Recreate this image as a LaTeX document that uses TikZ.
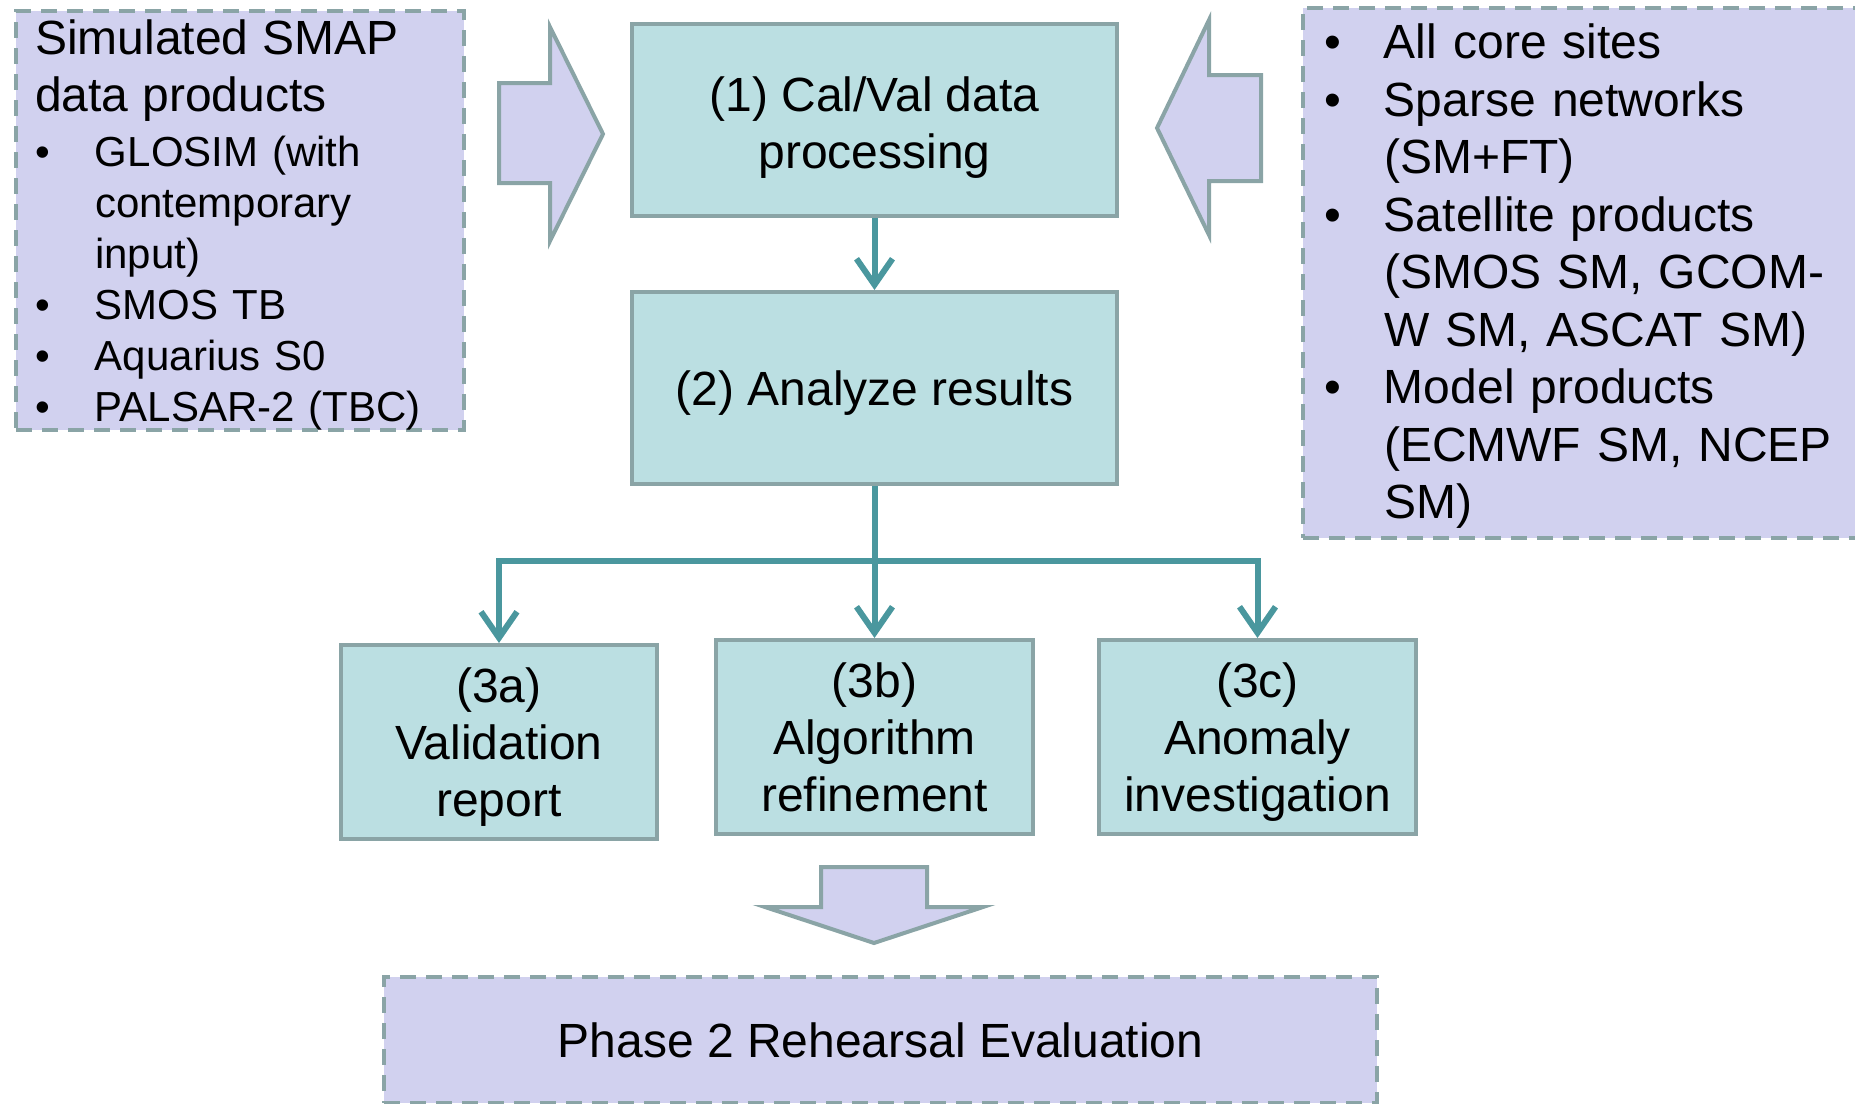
\documentclass[tikz,border=0pt]{standalone}
\usepackage{fontspec}
\setmainfont{Liberation Sans}
\usetikzlibrary{positioning,arrows.meta}
\definecolor{boxfill}{HTML}{BBDFE2}
\definecolor{boxline}{HTML}{8AA4A6}
\definecolor{lavender}{HTML}{D1D1EF}
\definecolor{flowteal}{HTML}{4A979E}
\newcommand{\bul}{\makebox[60pt][l]{\textbullet}}
\newcommand{\ind}{\hspace*{60pt}}

\begin{document}
\begin{tikzpicture}[x=1pt, y=-1pt, node distance=72pt,
	procbox/.style={rectangle, draw=boxline, fill=boxfill, line width=4pt, align=center,
		font=\fontsize{48}{57}\selectfont},
	listbox/.style={rectangle, draw=boxline, fill=lavender, line width=4pt,
		dash pattern=on 16pt off 10pt, anchor=north west, align=left, inner xsep=19pt, inner ysep=0pt},
	blockarrow/.style={draw=boxline, fill=lavender, line width=4pt},
	flow/.style={flowteal, line width=6pt, -{Straight Barb[length=26pt,width=36pt]}}]
	\clip (0,0) rectangle (1855,1103);
	\node[listbox, text width=410pt, font=\fontsize{42}{51}\selectfont] (sim) at (14,9)
		{\rule{0pt}{43pt}{\fontsize{48}{57}\selectfont Simulated SMAP}\\[6pt]
		{\fontsize{48}{57}\selectfont data products}\\[4pt]
		\bul GLOSIM (with\\
		\ind contemporary\\
		\ind input)\\
		\bul SMOS TB\\
		\bul Aquarius S0\\
		\bul PALSAR-2 (TBC)};
	\node[listbox, text width=600pt, inner xsep=21pt, font=\fontsize{48}{57.5}\selectfont] (ref) at (1301,6)
		{\rule{0pt}{50.5pt}\bul All core sites\\
		\bul Sparse networks\\
		\ind (SM+FT)\\
		\bul Satellite products\\
		\ind (SMOS SM, GCOM-\\
		\ind W SM, ASCAT SM)\\
		\bul Model products\\
		\ind (ECMWF SM, NCEP\\
		\ind SM)\rule[-19.5pt]{0pt}{19.5pt}};
	\node[procbox, minimum width=485pt, minimum height=192pt] (cal) at (874.5,120) {\rule{0pt}{49pt}(1) Cal/Val data\\processing};
	\node[procbox, minimum width=485pt, minimum height=192pt] (res) [below = of cal] {\rule{0pt}{45pt}(2) Analyze results};
	\node[procbox, minimum width=317pt, minimum height=194pt] (alg) [below = 152pt of res] {(3b)\\Algorithm\\refinement};
	\node[procbox, minimum width=316pt, minimum height=194pt, yshift=-5pt] (val) [left = 55pt of alg] {\rule{0pt}{44pt}(3a)\\Validation\\report};
	\node[procbox, minimum width=317pt, minimum height=194pt] (anom) [right = 62pt of alg] {\rule{0pt}{45pt}(3c)\\Anomaly\\investigation};
	\node[listbox, minimum width=993pt, minimum height=126pt, align=center,
		font=\fontsize{48}{57}\selectfont] (phase) at (382,975) {Phase 2 Rehearsal Evaluation};
	\coordinate (fork) at (874.5,561);
	\draw[blockarrow] (499,83) -- (550,83) -- (550,27) -- (603,134) -- (550,241) -- (550,183) -- (499,183) -- cycle;
	\draw[blockarrow] (1261,75) -- (1209,75) -- (1209,20) -- (1157,128) -- (1209,235) -- (1209,181) -- (1261,181) -- cycle;
	\draw[blockarrow] (821,867) -- (927,867) -- (927,907) -- (983,907) -- (874,943) -- (765,907) -- (821,907) -- cycle;
	\path[flow] (cal) edge (res);
	\draw[flowteal, line width=6pt] (res) -- (fork);
	\draw[flow] (fork) -| (val);
	\draw[flow] (fork) -| (anom);
	\draw[flow] (fork) -- (alg);
\end{tikzpicture}
\end{document}
